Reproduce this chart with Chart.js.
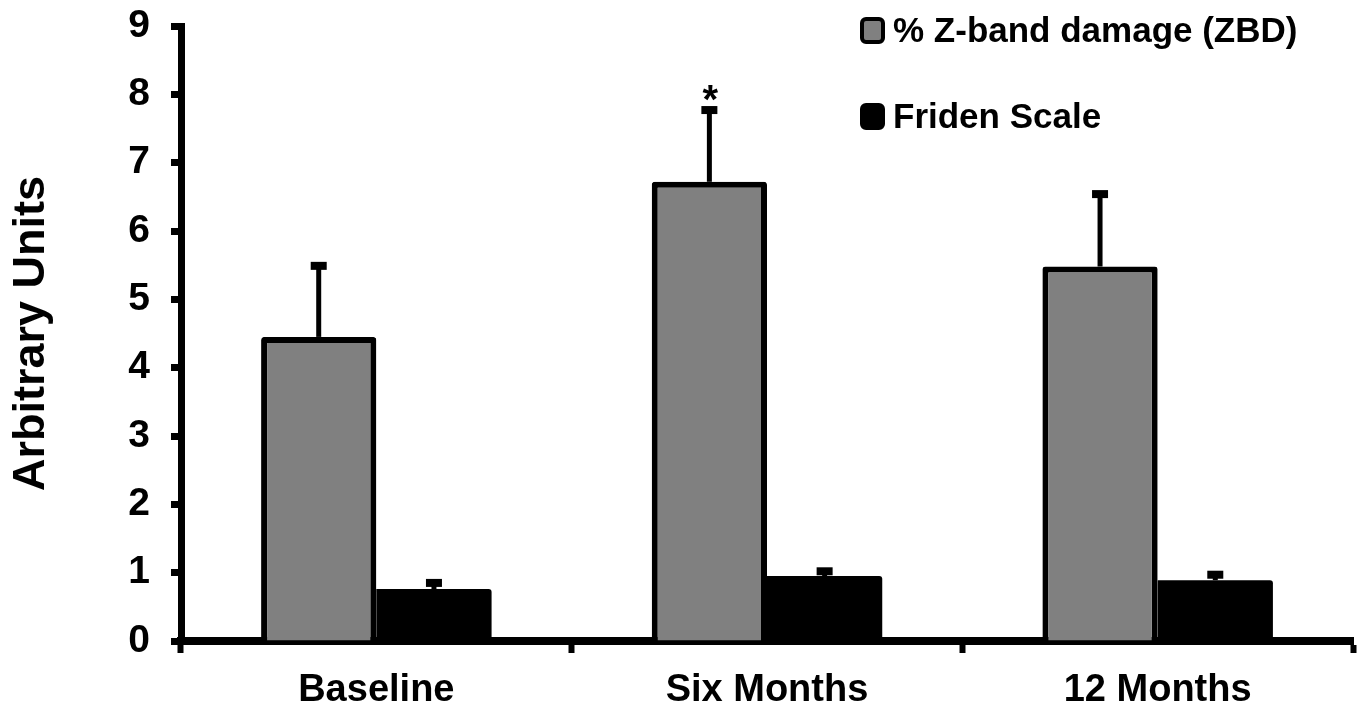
<!DOCTYPE html>
<html>
<head>
<meta charset="utf-8">
<script src="https://cdn.jsdelivr.net/npm/chart.js@4/dist/chart.umd.min.js"></script>
<style>
html,body{margin:0;padding:0;background:#fff;overflow:hidden;}
#wrap{width:1363px;height:706px;position:relative;}
</style>
</head>
<body>
<div id="wrap"><canvas id="c"></canvas></div>
<script>
// ---- data ----
const categories = ['Baseline', 'Six Months', '12 Months'];
const zbdLabel = '% Z-band damage (ZBD)';
const zbdMean = [4.45, 6.72, 5.48];
const zbdUpper = [5.49, 7.77, 6.54];
const zbdMarks = ['', '*', ''];
const fridenLabel = 'Friden Scale';
const fridenMean = [0.76, 0.95, 0.89];
const fridenUpper = [0.85, 1.02, 0.97];
const yTicks = [0, 1, 2, 3, 4, 5, 6, 7, 8, 9];
const yTitle = 'Arbitrary Units';

const FONT = '"Liberation Sans", Arial, sans-serif';
const errorUpper = [zbdUpper, fridenUpper];
const marks = [zbdMarks, ['', '', '']];

const errorPlugin = {
  id: 'errorBars',
  afterDatasetsDraw(chart) {
    const ctx = chart.ctx;
    const ys = chart.scales.y;
    chart.data.datasets.forEach((ds, i) => {
      const meta = chart.getDatasetMeta(i);
      meta.data.forEach((bar, j) => {
        const yTop = ys.getPixelForValue(errorUpper[i][j]);
        const x = bar.x;
        ctx.save();
        ctx.strokeStyle = '#000';
        ctx.fillStyle = '#000';
        ctx.lineWidth = 5;
        ctx.beginPath();
        ctx.moveTo(x, bar.y);
        ctx.lineTo(x, yTop);
        ctx.stroke();
        ctx.fillRect(x - 8, yTop - 4, 16, 8);
        const m = marks[i][j];
        if (m) {
          ctx.font = 'bold 40px ' + FONT;
          ctx.textAlign = 'center';
          ctx.textBaseline = 'alphabetic';
          ctx.fillText(m, x + 1, yTop + 3);
        }
        ctx.restore();
      });
    });
  }
};

const legendPlugin = {
  id: 'customLegend',
  afterDraw(chart) {
    const ctx = chart.ctx;
    const rows = [42, 128];
    chart.data.datasets.forEach((ds, i) => {
      const base = rows[i];
      ctx.save();
      ctx.beginPath();
      if (ctx.roundRect) ctx.roundRect(862, base - 23, 21, 23, 4); else ctx.rect(862, base - 23, 21, 23);
      ctx.fillStyle = ds.backgroundColor;
      ctx.fill();
      ctx.lineWidth = 4;
      ctx.strokeStyle = '#000';
      ctx.stroke();
      ctx.fillStyle = '#000';
      ctx.font = 'bold 35px ' + FONT;
      ctx.textAlign = 'left';
      ctx.textBaseline = 'alphabetic';
      ctx.fillText(ds.label, 893, base);
      ctx.restore();
    });
  }
};

new Chart(document.getElementById('c'), {
  type: 'bar',
  data: {
    labels: categories,
    datasets: [
      {
        label: zbdLabel,
        data: zbdMean,
        backgroundColor: '#808080',
        borderColor: '#000',
        borderWidth: 6,
        borderSkipped: 'start',
        borderRadius: 3,
        categoryPercentage: 0.59,
        barPercentage: 1.0
      },
      {
        label: fridenLabel,
        data: fridenMean,
        backgroundColor: '#000',
        borderWidth: 0,
        borderRadius: {topLeft: 0, topRight: 3, bottomLeft: 0, bottomRight: 0},
        categoryPercentage: 0.59,
        barPercentage: 1.0
      }
    ]
  },
  options: {
    responsive: true,
    maintainAspectRatio: false,
    animation: false,
    layout: {padding: {left: 0, top: 26, right: 10, bottom: 0}},
    plugins: {legend: {display: false}, tooltip: {enabled: false}},
    scales: {
      x: {
        offset: true,
        grid: {offset: true, drawOnChartArea: false, drawTicks: true, tickLength: 12, tickWidth: 6, tickColor: '#000'},
        border: {display: true, color: '#000', width: 8},
        ticks: {color: '#000', font: {family: FONT, size: 38, weight: 'bold'}, padding: 15, maxRotation: 0},
        afterFit(s) { s.height = 65; s.paddingLeft = 0; s.paddingRight = 0; }
      },
      y: {
        min: 0,
        max: 9,
        afterBuildTicks(s) { s.ticks = yTicks.map(v => ({value: v})); },
        grid: {drawOnChartArea: false, drawTicks: true, tickLength: 10, tickWidth: 7, tickColor: '#000'},
        border: {display: true, color: '#000', width: 7},
        ticks: {color: '#000', font: {family: FONT, size: 39, weight: 'bold'}, padding: 21},
        title: {display: true, text: yTitle, color: '#000', font: {family: FONT, size: 45, weight: 'bold'}, padding: {top: 5, bottom: 0}},
        afterFit(s) { s.width = 181; s.paddingTop = 0; s.paddingBottom = 0; }
      }
    }
  },
  plugins: [errorPlugin, legendPlugin]
});
</script>
</body>
</html>
